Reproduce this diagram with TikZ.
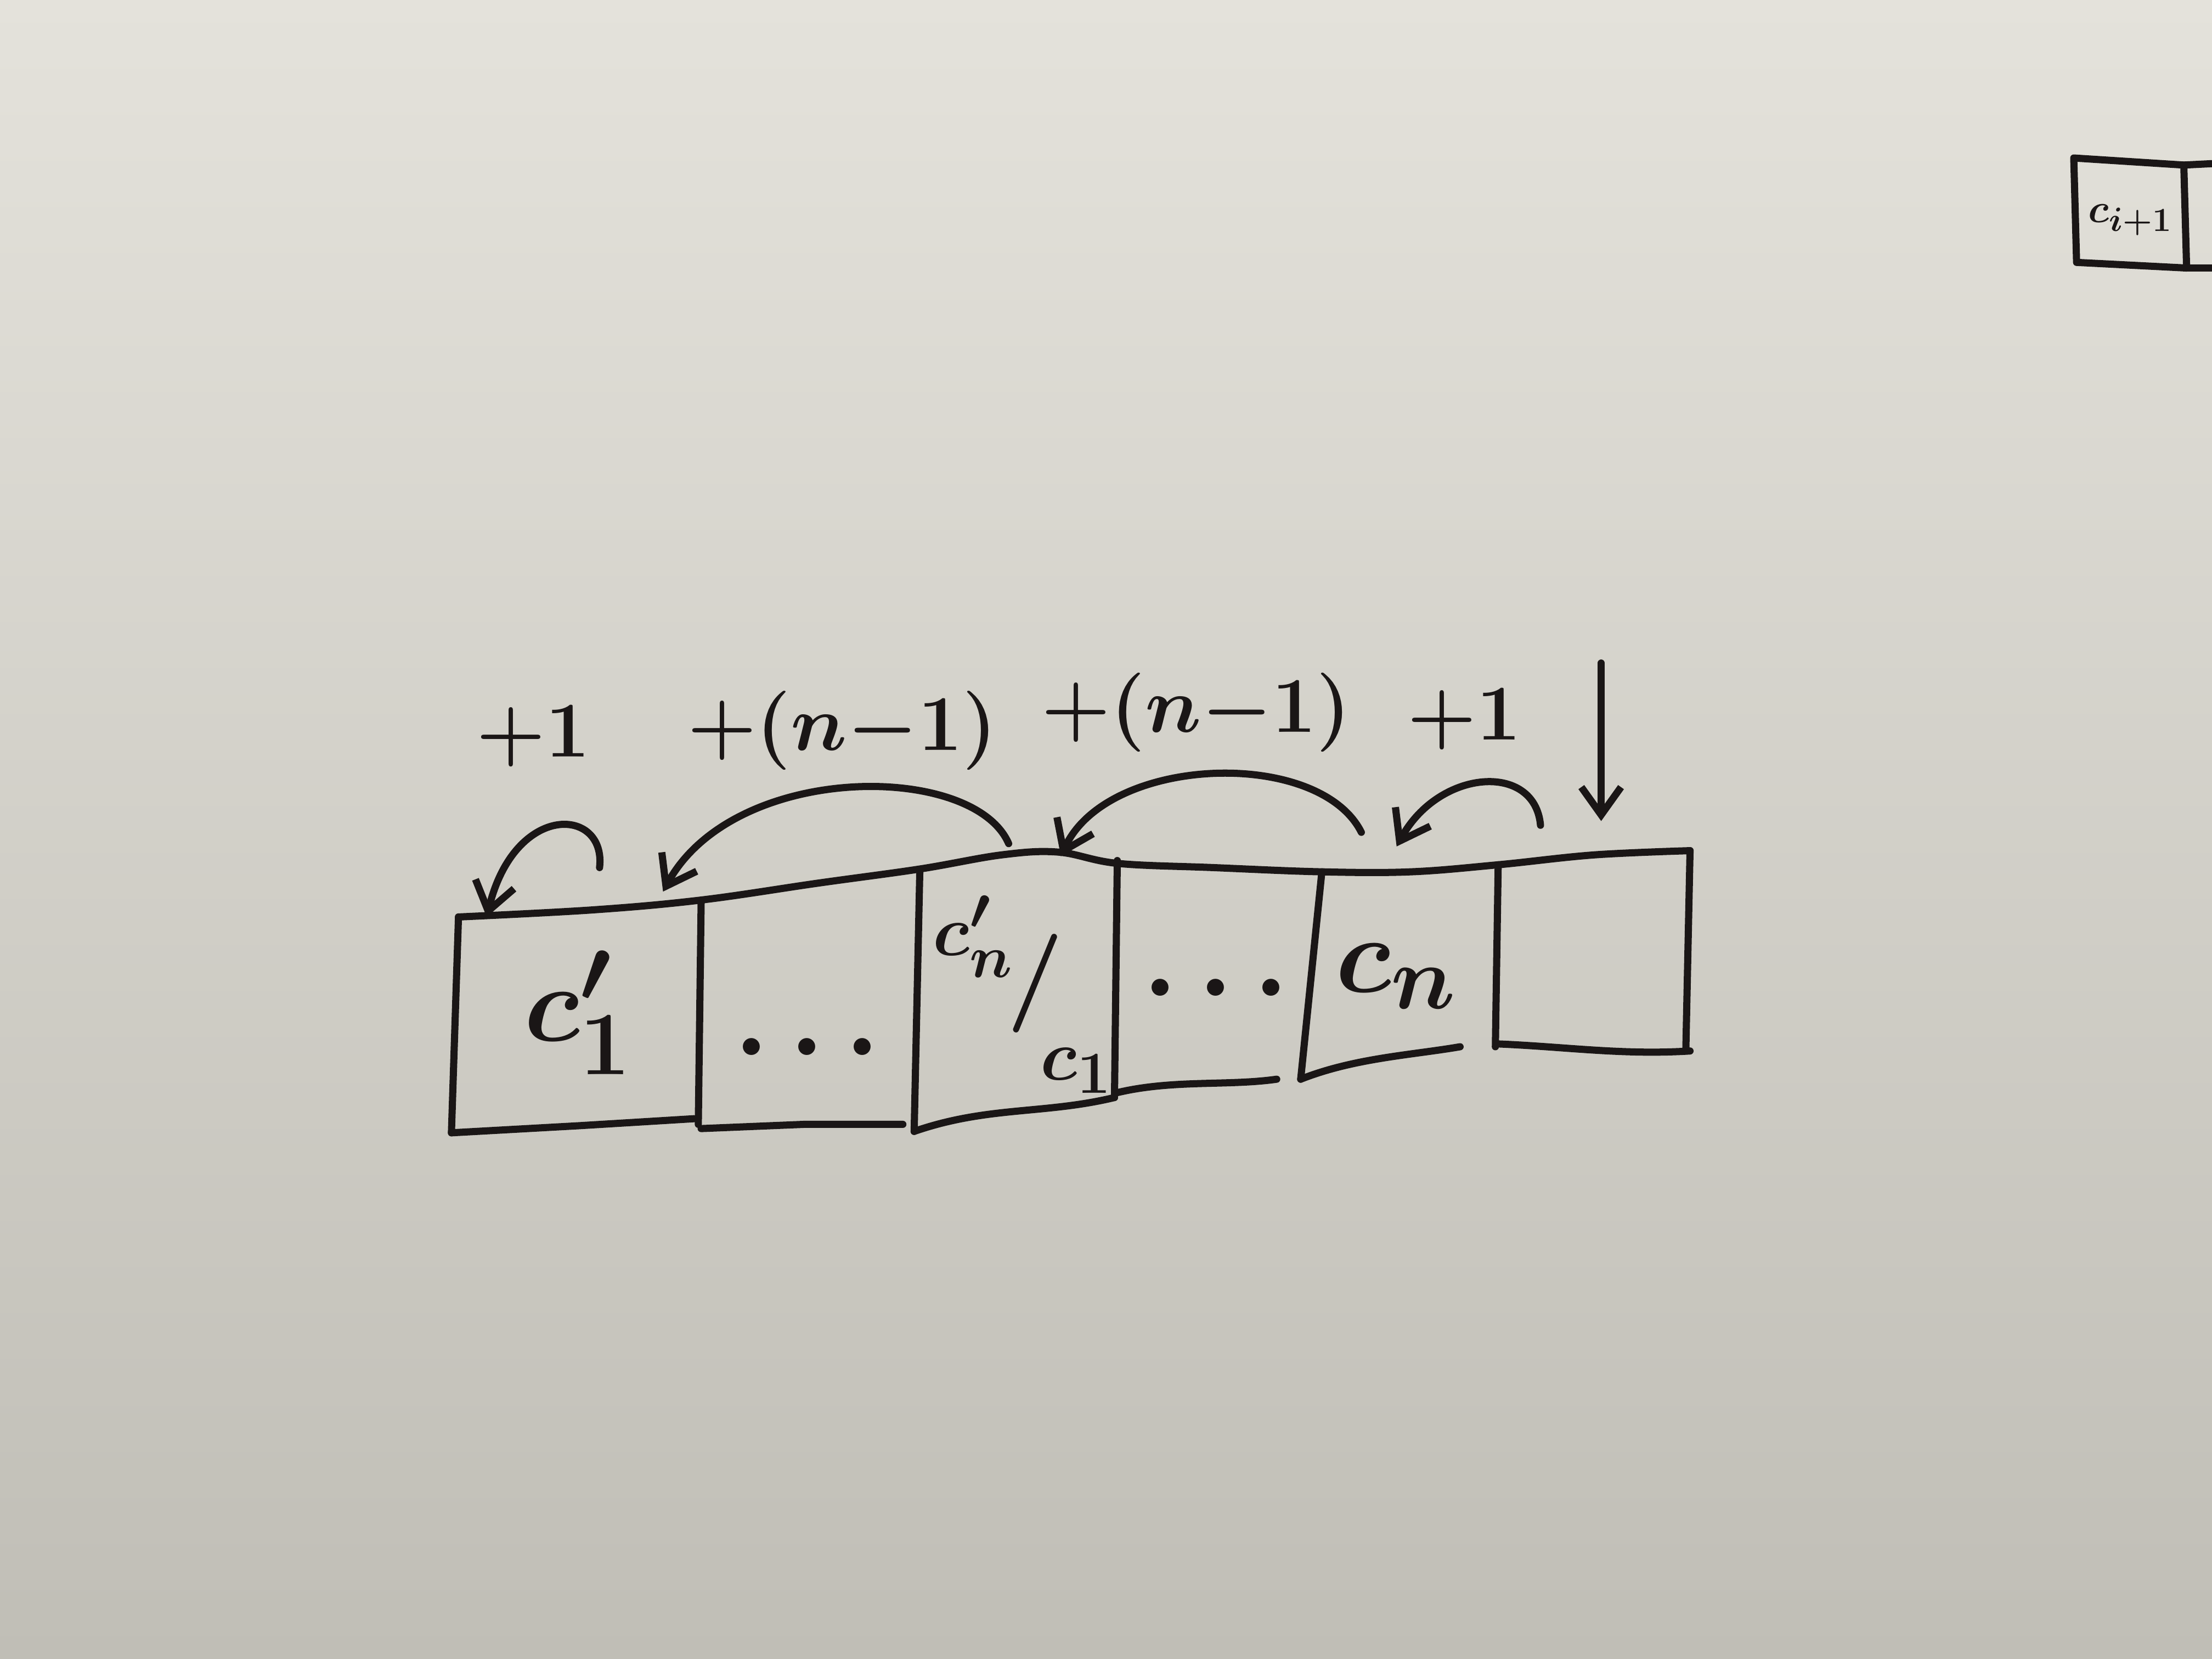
\documentclass[tikz,border=0pt]{standalone}
\usetikzlibrary{arrows.meta}
\definecolor{paperlight}{RGB}{228,226,219}
\definecolor{paperdark}{RGB}{192,190,182}
\definecolor{ink}{RGB}{26,22,22}
\begin{document}
\begin{tikzpicture}[x=0.025cm,y=-0.025cm,
  ink/.style={line width=3.6pt, draw=ink, line join=round, line cap=round},
  jump/.style={ink, -{Straight Barb[length=14pt,width=20pt,line width=3.6pt]}},
  lbl/.style={font=\Huge\boldmath, scale=1.6, text=ink, inner sep=0pt},
  cell/.style={font=\Huge\boldmath, scale=2.2, text=ink, inner sep=0pt},
  mid/.style={font=\Huge\boldmath, scale=1.45, text=ink, inner sep=0pt},
  small/.style={font=\Huge\boldmath, scale=0.82, text=ink, inner sep=0pt}]
% paper
\shade[top color=paperlight, bottom color=paperdark] (0,0) rectangle (1568,1176);
\useasboundingbox (0,0) rectangle (1568,1176);

% corners of the row of cells
\coordinate (a0t) at (325,650); \coordinate (a0b) at (320,803);
\coordinate (a1t) at (497,640); \coordinate (a1b) at (495,797);
\coordinate (a2t) at (652,618); \coordinate (a2b) at (648,802);
\coordinate (a3t) at (792,610); \coordinate (a3b) at (790,778);
\coordinate (a4t) at (937,618); \coordinate (a4b) at (922,765);
\coordinate (a5t) at (1062,613); \coordinate (a5b) at (1060,742);
\coordinate (a6t) at (1198,603); \coordinate (a6b) at (1195,745);

% top edge
\draw[ink] plot[smooth, tension=0.6] coordinates {(325,650) (420,645) (497,638) (580,626) (652,616) (710,606) (750,604) (792,612) (860,615) (937,618) (1000,618) (1062,613) (1130,606) (1198,603)};
% vertical edges
\foreach \i in {0,...,6} { \draw[ink] (a\i t) -- (a\i b); }
% bottom edges
\draw[ink] (320,803) -- (410,798) -- (492,793);
\draw[ink] (497,800) -- (570,797) -- (640,797);
\draw[ink] (648,802) .. controls (700,784) and (740,790) .. (790,778);
\draw[ink] (790,775) .. controls (830,765) and (870,770) .. (905,765);
\draw[ink] (922,765) .. controls (960,750) and (1000,748) .. (1035,742);
\draw[ink] (1062,740) .. controls (1110,742) and (1150,748) .. (1198,745);

% cell contents
\node[cell] (n1) at (410,718) {$c'_1$};
\node[cell] (n2) at (572,742) {$\dots$};
\node[mid] (n3a) at (690,664) {$c'_n$};
\node[font=\Huge\boldmath, scale=2.0, text=ink, inner sep=0pt] (n3s) at (734,697) {$/$};
\node[mid] (n3b) at (763,759) {$c_1$};
\node[cell] (n4) at (862,700) {$\dots$};
\node[cell] (n5) at (990,692) {$c_n$};

% arc end points
\coordinate (s1) at (425,615); \coordinate (e1) at (345,650);
\coordinate (s2) at (715,598); \coordinate (e2) at (470,632);
\coordinate (s3) at (965,590); \coordinate (e3) at (752,607);
\coordinate (s4) at (1092,585); \coordinate (e4) at (990,600);
\coordinate (d0) at (1135,470); \coordinate (d1) at (1135,582);

\draw[jump] (s1) .. controls (430,572) and (365,568) .. (e1);
\draw[jump] (s2) .. controls (690,540) and (520,540) .. (e2);
\draw[jump] (s3) .. controls (935,530) and (785,535) .. (e3);
\draw[jump] (s4) .. controls (1088,540) and (1020,545) .. (e4);
\draw[jump] (d0) -- (d1);

% labels
\node[lbl] (l1) at (378,522) {$+1$};
\node[lbl] (l2) at (597,518) {$+(n{-}1)$};
\node[lbl] (l3) at (848,505) {$+(n{-}1)$};
\node[lbl] (l4) at (1038,510) {$+1$};

% partial cells at top right
\draw[ink] (1548,117) -- (1470,112) -- (1472,186) -- (1550,190) -- cycle;
\draw[ink] (1548,117) -- (1568,116);
\draw[ink] (1550,190) -- (1568,190);
\node[small] (t1) at (1510,156) {$c_{i+1}$};
\end{tikzpicture}
\end{document}
